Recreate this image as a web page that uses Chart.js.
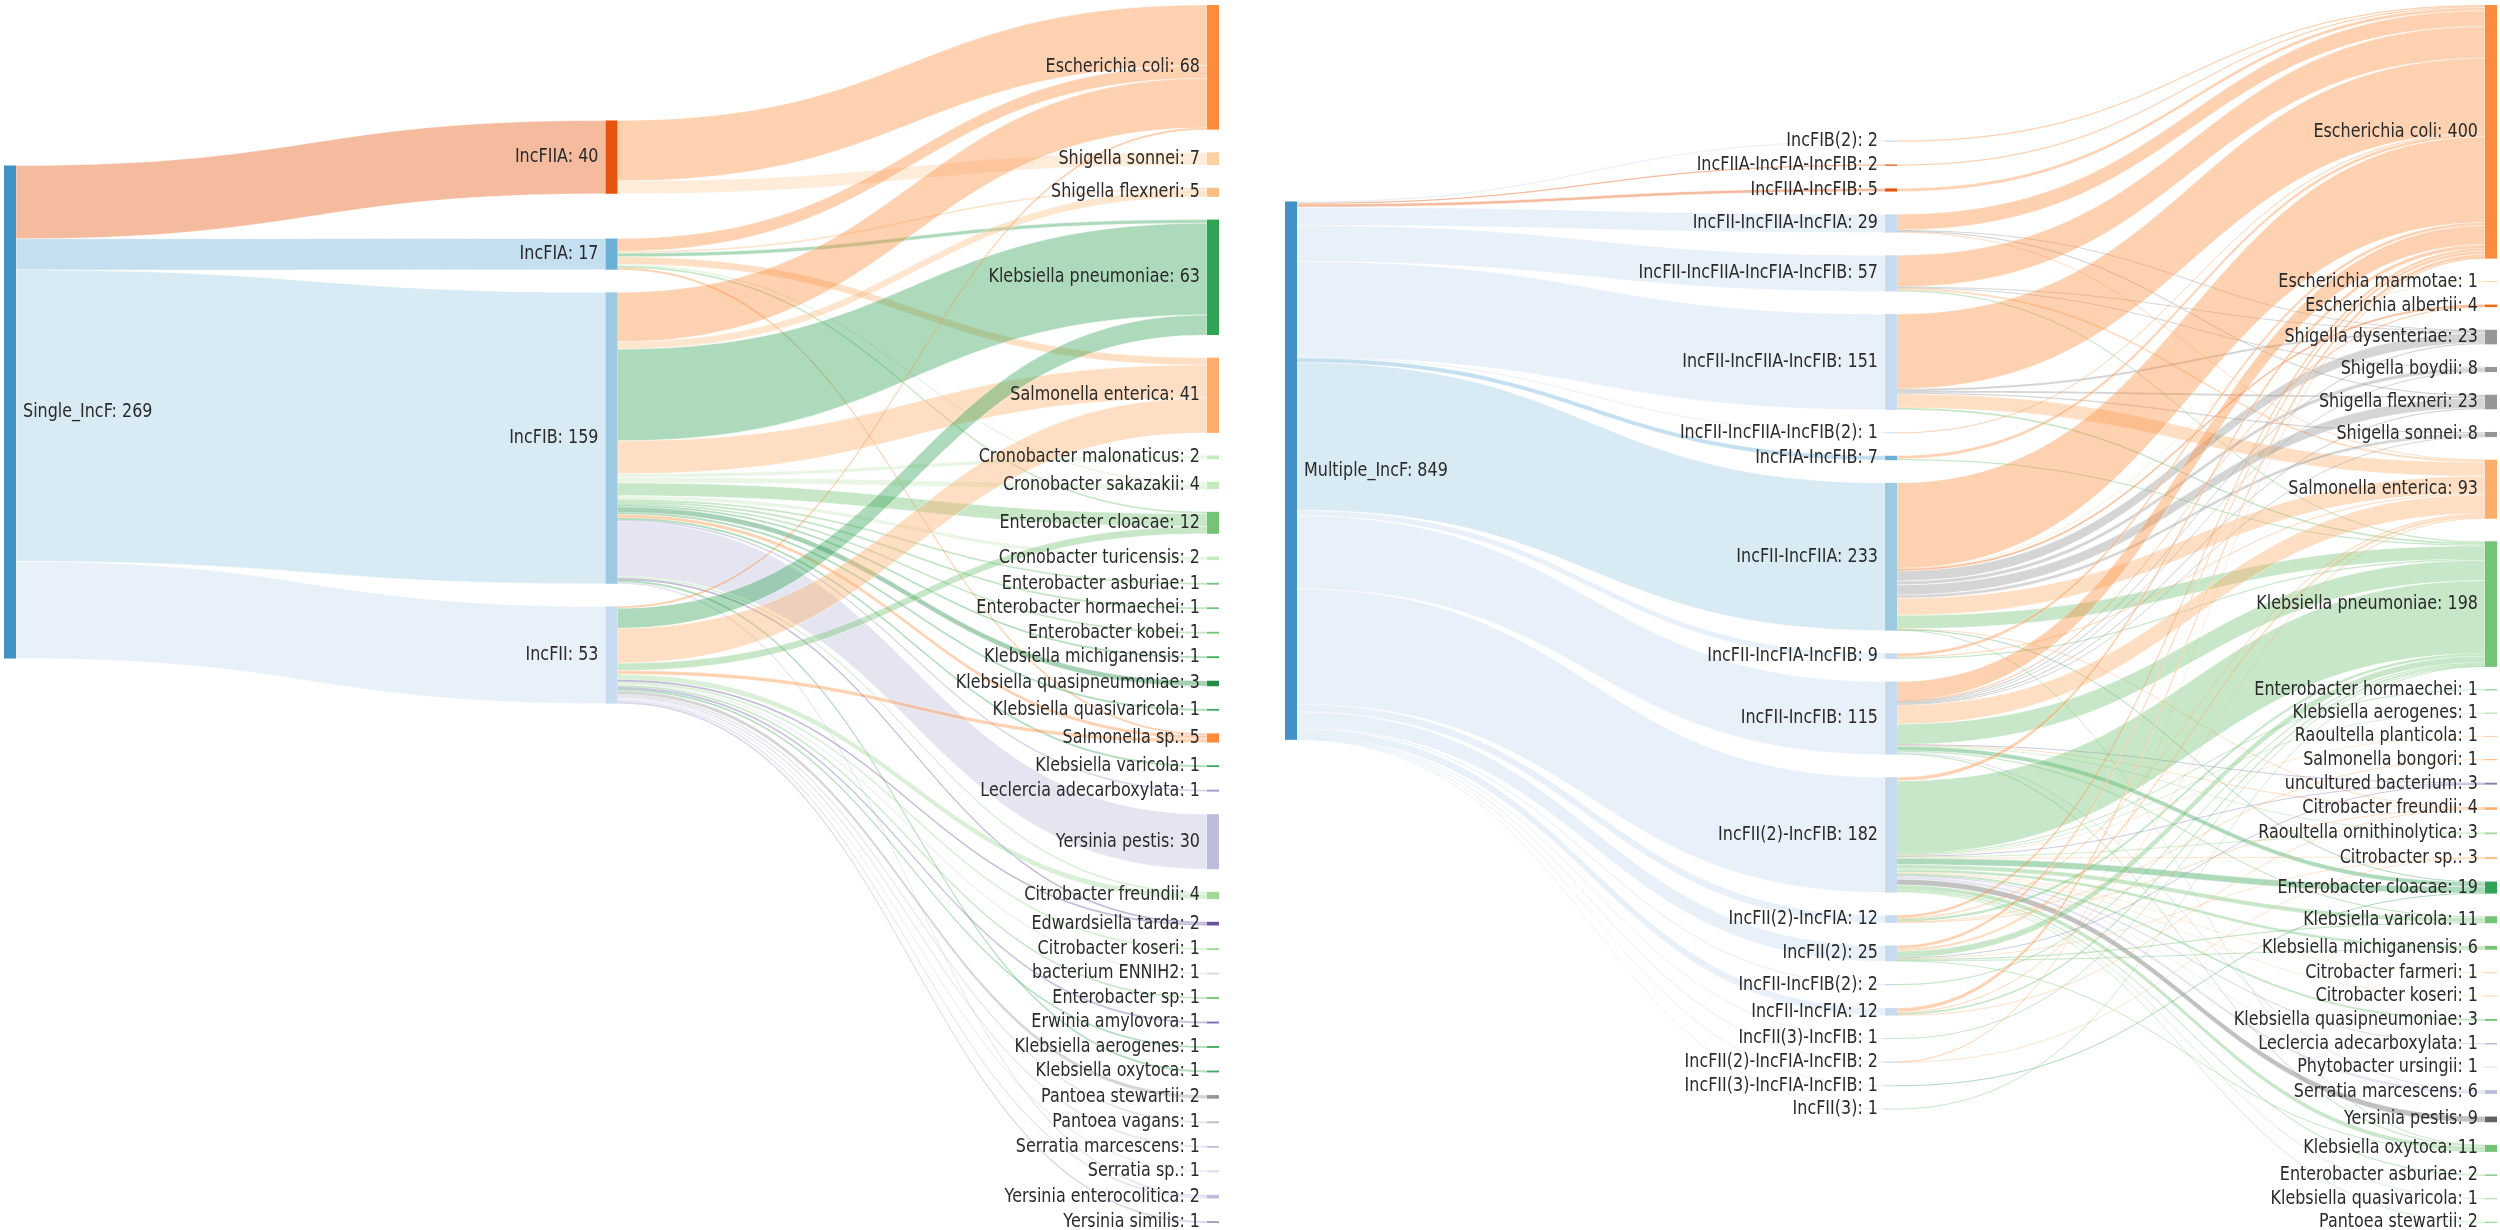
<!DOCTYPE html>
<html>
<head>
<meta charset="utf-8">
<script src="https://cdn.jsdelivr.net/npm/chart.js@4.4.1/dist/chart.umd.min.js"></script>
<style>
  html, body { margin: 0; padding: 0; background: #fff; }
  #wrap { position: relative; width: 2500px; height: 1230px; overflow: hidden; }
  .panel { position: absolute; top: 0; width: 1250px; height: 1230px; }
</style>
</head>
<body>
<div id="wrap">
  <div class="panel" style="left:0"><canvas id="single" width="1250" height="1230"></canvas></div>
  <div class="panel" style="left:1250px"><canvas id="multiple" width="1250" height="1230"></canvas></div>
</div>
<script>
// ---- left panel: single IncF replicon ----
const singleRoot = 'Single_IncF';
const singleReplicons = ['IncFIIA', 'IncFIA', 'IncFIB', 'IncFII'];
const singleRepliconCounts = [40, 17, 159, 53];
const singleSpecies = [
  'Escherichia coli', 'Shigella sonnei', 'Shigella flexneri', 'Klebsiella pneumoniae',
  'Salmonella enterica', 'Cronobacter malonaticus', 'Cronobacter sakazakii', 'Enterobacter cloacae',
  'Cronobacter turicensis', 'Enterobacter asburiae', 'Enterobacter hormaechei', 'Enterobacter kobei',
  'Klebsiella michiganensis', 'Klebsiella quasipneumoniae', 'Klebsiella quasivaricola', 'Salmonella sp.',
  'Klebsiella varicola', 'Leclercia adecarboxylata', 'Yersinia pestis', 'Citrobacter freundii',
  'Edwardsiella tarda', 'Citrobacter koseri', 'bacterium ENNIH2', 'Enterobacter sp',
  'Erwinia amylovora', 'Klebsiella aerogenes', 'Klebsiella oxytoca', 'Pantoea stewartii',
  'Pantoea vagans', 'Serratia marcescens', 'Serratia sp.', 'Yersinia enterocolitica', 'Yersinia similis'
];
const singleSpeciesCounts = [68, 7, 5, 63, 41, 2, 4, 12, 2, 1, 1, 1, 1, 3, 1, 5, 1, 1, 30, 4, 2, 1, 1, 1, 1, 1, 1, 2, 1, 1, 1, 2, 1];
const singleLinkFrom = [
  0, 0,
  1, 1, 1, 1, 1, 1, 1,
  2, 2, 2, 2, 2, 2, 2, 2, 2, 2, 2, 2, 2, 2, 2, 2, 2, 2, 2, 2, 2, 2,
  3, 3, 3, 3, 3, 3, 3, 3, 3, 3, 3, 3, 3, 3, 3, 3, 3, 3
];
const singleLinkTo = [
  0, 1,
  0, 2, 3, 4, 6, 7, 15,
  0, 2, 3, 4, 5, 6, 7, 8, 9, 10, 11, 12, 13, 14, 15, 16, 17, 18, 19, 20, 26, 31,
  0, 3, 4, 7, 15, 19, 20, 21, 22, 23, 24, 25, 27, 28, 29, 30, 31, 32
];
const singleLinkValue = [
  33, 7,
  7, 1, 2, 4, 1, 1, 1,
  27, 4, 50, 18, 2, 3, 7, 2, 1, 1, 1, 1, 3, 1, 2, 1, 1, 30, 1, 1, 1, 1,
  1, 11, 19, 4, 2, 3, 1, 1, 1, 1, 1, 1, 2, 1, 1, 1, 1, 1
];

// ---- right panel: multiple IncF replicons ----
const multiRoot = 'Multiple_IncF';
const multiReplicons = [
  'IncFIB(2)', 'IncFIIA-IncFIA-IncFIB', 'IncFIIA-IncFIB', 'IncFII-IncFIIA-IncFIA',
  'IncFII-IncFIIA-IncFIA-IncFIB', 'IncFII-IncFIIA-IncFIB', 'IncFII-IncFIIA-IncFIB(2)', 'IncFIA-IncFIB',
  'IncFII-IncFIIA', 'IncFII-IncFIA-IncFIB', 'IncFII-IncFIB', 'IncFII(2)-IncFIB',
  'IncFII(2)-IncFIA', 'IncFII(2)', 'IncFII-IncFIB(2)', 'IncFII-IncFIA',
  'IncFII(3)-IncFIB', 'IncFII(2)-IncFIA-IncFIB', 'IncFII(3)-IncFIA-IncFIB', 'IncFII(3)'
];
const multiRepliconCounts = [2, 2, 5, 29, 57, 151, 1, 7, 233, 9, 115, 182, 12, 25, 2, 12, 1, 2, 1, 1];
const multiSpecies = [
  'Escherichia coli', 'Escherichia marmotae', 'Escherichia albertii', 'Shigella dysenteriae',
  'Shigella boydii', 'Shigella flexneri', 'Shigella sonnei', 'Salmonella enterica',
  'Klebsiella pneumoniae', 'Enterobacter hormaechei', 'Klebsiella aerogenes', 'Raoultella planticola',
  'Salmonella bongori', 'uncultured bacterium', 'Citrobacter freundii', 'Raoultella ornithinolytica',
  'Citrobacter sp.', 'Enterobacter cloacae', 'Klebsiella varicola', 'Klebsiella michiganensis',
  'Citrobacter farmeri', 'Citrobacter koseri', 'Klebsiella quasipneumoniae', 'Leclercia adecarboxylata',
  'Phytobacter ursingii', 'Serratia marcescens', 'Yersinia pestis', 'Klebsiella oxytoca',
  'Enterobacter asburiae', 'Klebsiella quasivaricola', 'Pantoea stewartii'
];
const multiSpeciesCounts = [400, 1, 4, 23, 8, 23, 8, 93, 198, 1, 1, 1, 1, 3, 4, 3, 3, 19, 11, 6, 1, 1, 3, 1, 1, 6, 9, 11, 2, 1, 2];
const multiLinkFrom = [
  0,
  1,
  2,
  3, 3, 3, 3,
  4, 4, 4, 4, 4,
  5, 5, 5, 5, 5, 5,
  6,
  7, 7,
  8, 8, 8, 8, 8, 8, 8, 8, 8, 8, 8, 8,
  9, 9, 9,
  10, 10, 10, 10, 10, 10, 10, 10, 10, 10, 10, 10, 10, 10, 10,
  11, 11, 11, 11, 11, 11, 11, 11, 11, 11, 11, 11, 11, 11, 11, 11, 11, 11, 11, 11, 11, 11,
  12, 12, 12, 12, 12,
  13, 13, 13, 13, 13, 13, 13, 13,
  14,
  15, 15, 15, 15,
  16,
  17, 17,
  18,
  19
];
const multiLinkTo = [
  0,
  0,
  0,
  0, 3, 5, 7,
  0, 3, 4, 7, 8,
  0, 3, 5, 6, 7, 8,
  0,
  0, 8,
  0, 1, 2, 3, 4, 5, 6, 7, 8, 14, 17, 27,
  0, 7, 8,
  0, 2, 3, 4, 5, 6, 7, 8, 13, 14, 15, 17, 18, 25, 27,
  0, 8, 9, 10, 11, 13, 15, 16, 17, 18, 19, 20, 21, 22, 23, 24, 25, 26, 27, 28, 29, 30,
  0, 7, 8, 12, 14,
  0, 7, 8, 13, 16, 18, 19, 27,
  8,
  0, 7, 8, 14,
  8,
  0, 16,
  17,
  8
];
const multiLinkValue = [
  2,
  2,
  5,
  25, 1, 2, 1,
  50, 1, 1, 3, 2,
  118, 3, 3, 2, 22, 3,
  1,
  5, 2,
  135, 1, 3, 16, 6, 16, 5, 27, 21, 1, 1, 1,
  5, 2, 2,
  30, 1, 2, 1, 2, 1, 30, 32, 1, 1, 1, 7, 2, 2, 2,
  6, 115, 1, 1, 1, 1, 2, 1, 10, 7, 5, 1, 1, 3, 1, 1, 4, 9, 7, 2, 1, 2,
  4, 2, 4, 1, 1,
  5, 4, 10, 1, 1, 2, 1, 1,
  2,
  6, 2, 3, 1,
  1,
  1, 1,
  1,
  1
];

// ---- colours ----
const rootColor = '#4292c6';
const singleRepliconColors = ['#e6550d', '#6baed6', '#9ecae1', '#c6dbef'];
const singleSpeciesColors = [
  '#fd8d3c', '#fdd0a2', '#fdbe85', '#31a354', '#fdae6b', '#c7e9c0', '#c7e9c0', '#74c476',
  '#c7e9c0', '#74c476', '#74c476', '#74c476', '#41ab5d', '#238b45', '#41ab5d', '#fd8d3c',
  '#41ab5d', '#9e9ac8', '#bcbddc', '#a1d99b', '#6a51a3', '#a1d99b', '#d9d9d9', '#74c476',
  '#756bb1', '#41ab5d', '#41ab5d', '#969696', '#bdbdbd', '#bcbddc', '#dadaeb', '#bcbddc', '#9e9ac8'
];
const multiRepliconColors = [
  '#c6dbef', '#e6550d', '#e6550d', '#c6dbef', '#c6dbef', '#c6dbef', '#c6dbef', '#6baed6',
  '#9ecae1', '#c6dbef', '#c6dbef', '#c6dbef', '#c6dbef', '#c6dbef', '#c6dbef', '#c6dbef',
  '#c6dbef', '#c6dbef', '#c6dbef', '#c6dbef'
];
const multiSpeciesColors = [
  '#fd8d3c', '#fdd0a2', '#f16913', '#969696', '#969696', '#969696', '#969696', '#fdae6b',
  '#74c476', '#74c476', '#a1d99b', '#fdd0a2', '#fdae6b', '#807dba', '#fdae6b', '#a1d99b',
  '#fdbe85', '#31a354', '#74c476', '#74c476', '#fdd0a2', '#fdd0a2', '#74c476', '#9e9ac8',
  '#dadaeb', '#bcbddc', '#636363', '#74c476', '#74c476', '#a1d99b', '#a1d99b'
];

const NODE_W = 12;
const PAD_FRAC = 0.0186;   // node gap as a share of the plot height
const LINK_ALPHA = 0.4;
const ROOT_PULL = 0.69;    // share of the root side in a middle node's wanted position

function fade(hex, a) {
  const v = parseInt(hex.slice(1), 16);
  return `rgba(${(v >> 16) & 255},${(v >> 8) & 255},${v & 255},${a})`;
}

function buildGraph(rootName, reps, repCounts, repColors, species, spCounts, spColors, from, to, vals) {
  const mk = (name, value, color, col, idx) => ({ name, value, color, col, idx, src: [], tgt: [] });
  const root = mk(rootName, repCounts.reduce((a, b) => a + b, 0), rootColor, 0, 0);
  const mids = reps.map((r, i) => mk(r, repCounts[i], repColors[i], 1, i));
  const sps = species.map((s, i) => mk(s, spCounts[i], spColors[i], 2, i));
  const links = [];
  mids.forEach((m, i) => links.push({ s: root, t: m, v: repCounts[i], color: m.color }));
  from.forEach((f, k) => links.push({ s: mids[f], t: sps[to[k]], v: vals[k], color: sps[to[k]].color }));
  links.forEach(l => { l.s.src.push(l); l.t.tgt.push(l); });
  return { cols: [[root], mids, sps], links };
}

const center = n => (n.y0 + n.y1) / 2;
const wmean = (items, f, w) => {
  let s = 0, t = 0;
  items.forEach(it => { s += f(it) * w(it); t += w(it); });
  return s / t;
};

// keep the given order, push overlapping nodes down, then back up from the bottom
function placeColumn(nodes, wanted, pad, ymax) {
  let y = 0;
  nodes.forEach((n, i) => {
    n.y0 = Math.max(wanted[i] - n.value / 2, y);
    n.y1 = n.y0 + n.value;
    y = n.y1 + pad;
  });
  y = ymax;
  for (let i = nodes.length - 1; i >= 0; i--) {
    const n = nodes[i], d = n.y1 - y;
    if (d > 0) { n.y0 -= d; n.y1 -= d; }
    y = n.y0 - pad;
  }
}

function linkOffsets(g) {
  g.cols.flat().forEach(n => {
    n.src.sort((a, b) => a.t.idx - b.t.idx);
    n.tgt.sort((a, b) => a.s.idx - b.s.idx);
    let y = n.y0;
    n.src.forEach(l => { l.sy0 = y; y += l.v; l.sy1 = y; });
    y = n.y0;
    n.tgt.forEach(l => { l.ty0 = y; y += l.v; l.ty1 = y; });
  });
}

function layout(g) {
  const sums = g.cols.map(c => c.reduce((a, n) => a + n.value, 0));
  g.ymax = Math.max(...g.cols.map((c, i) => sums[i] / (1 - (c.length - 1) * PAD_FRAC)));
  g.pad = g.ymax * PAD_FRAC;
  const [roots, mids, sps] = g.cols;
  const root = roots[0];
  placeColumn(sps, sps.map(() => 0), g.pad, g.ymax);
  mids.forEach(m => { m.y0 = 0; m.y1 = m.value; });
  root.y0 = 0; root.y1 = root.value;
  linkOffsets(g);
  // where each middle node's flow lands on the species column
  const landing = mids.map(m => wmean(m.src, l => (l.ty0 + l.ty1) / 2, l => l.v));
  // the root sits at the centre of the middle nodes drawn toward their species
  placeColumn(mids, landing, g.pad, g.ymax);
  const rc = wmean(mids, center, m => m.value);
  root.y0 = Math.min(Math.max(rc - root.value / 2, 0), g.ymax - root.value);
  root.y1 = root.y0 + root.value;
  // then each middle node settles between its root band and its species
  let off = root.y0;
  const wanted = mids.map((m, i) => {
    const s = off + m.value / 2;
    off += m.value;
    return (1 - ROOT_PULL) * landing[i] + ROOT_PULL * s;
  });
  placeColumn(mids, wanted, g.pad, g.ymax);
  linkOffsets(g);
  return g;
}

function sankeyPlugin(g) {
  return {
    id: 'sankey',
    afterDatasetsDraw(chart) {
      const { ctx, scales: { x, y } } = chart;
      const left = n => x.getPixelForValue(n.col) - NODE_W * n.col / 2;
      const band = (a, b) => {
        let p0 = y.getPixelForValue(a), p1 = y.getPixelForValue(b);
        if (p1 - p0 < 1) { const m = (p0 + p1) / 2; p0 = m - 0.5; p1 = m + 0.5; }
        return [p0, p1];
      };
      ctx.save();
      g.links.forEach(l => {
        const xs = left(l.s) + NODE_W, xt = left(l.t), xm = (xs + xt) / 2;
        const [s0, s1] = band(l.sy0, l.sy1);
        const [t0, t1] = band(l.ty0, l.ty1);
        ctx.beginPath();
        ctx.moveTo(xs, s0);
        ctx.bezierCurveTo(xm, s0, xm, t0, xt, t0);
        ctx.lineTo(xt, t1);
        ctx.bezierCurveTo(xm, t1, xm, s1, xs, s1);
        ctx.closePath();
        ctx.fillStyle = fade(l.color, LINK_ALPHA);
        ctx.fill();
        if (s1 - s0 > 3) {
          ctx.strokeStyle = 'rgba(255,255,255,0.7)';
          ctx.lineWidth = 0.6;
          ctx.stroke();
        }
      });
      g.cols.flat().forEach(n => {
        const [p0, p1] = band(n.y0, n.y1);
        ctx.fillStyle = n.color;
        ctx.fillRect(left(n), p0, NODE_W, p1 - p0);
      });
      ctx.font = '19px "DejaVu Sans"';
      ctx.fillStyle = '#2a2a2a';
      ctx.textBaseline = 'middle';
      g.cols.flat().forEach(n => {
        const yc = (y.getPixelForValue(n.y0) + y.getPixelForValue(n.y1)) / 2;
        ctx.save();
        if (n.col === 0) {
          ctx.translate(left(n) + NODE_W + 7, yc);
          ctx.textAlign = 'left';
        } else {
          ctx.translate(left(n) - 7, yc);
          ctx.textAlign = 'right';
        }
        ctx.scale(0.84, 1);
        ctx.fillText(n.name + ': ' + n.value, 0, 0);
        ctx.restore();
      });
      ctx.restore();
    }
  };
}

function drawSankey(id, g, padding) {
  new Chart(document.getElementById(id), {
    type: 'scatter',
    data: { datasets: [{ data: [] }] },
    options: {
      responsive: false,
      animation: false,
      layout: { padding },
      plugins: { legend: { display: false }, tooltip: { enabled: false } },
      scales: {
        x: { type: 'linear', min: 0, max: 2, display: false },
        y: { type: 'linear', min: 0, max: g.ymax, reverse: true, display: false }
      }
    },
    plugins: [sankeyPlugin(g)]
  });
}

const singleGraph = layout(buildGraph(singleRoot, singleReplicons, singleRepliconCounts, singleRepliconColors,
  singleSpecies, singleSpeciesCounts, singleSpeciesColors, singleLinkFrom, singleLinkTo, singleLinkValue));
const multiGraph = layout(buildGraph(multiRoot, multiReplicons, multiRepliconCounts, multiRepliconColors,
  multiSpecies, multiSpeciesCounts, multiSpeciesColors, multiLinkFrom, multiLinkTo, multiLinkValue));

drawSankey('single', singleGraph, { left: 4, right: 31, top: 5, bottom: 7 });
drawSankey('multiple', multiGraph, { left: 35, right: 3, top: 5, bottom: 7 });
</script>
</body>
</html>
